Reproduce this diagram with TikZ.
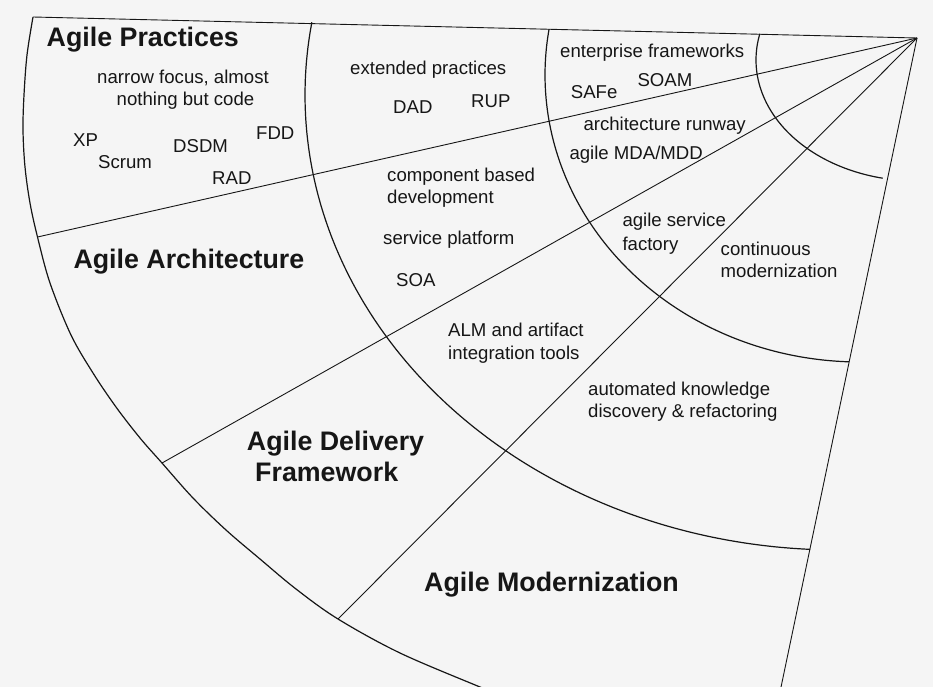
\documentclass[tikz,border=0pt]{standalone}
\usepackage{fontspec}
\setmainfont{Liberation Sans}
\definecolor{bg}{RGB}{245,245,245}
\definecolor{ink}{RGB}{22,22,22}
\tikzset{
  radline/.style={draw=ink, line width=0.9pt},
  arcline/.style={draw=ink, line width=1.2pt, line join=round},
  lbl/.style={inner sep=0pt, text=ink, font=\fontsize{18.6}{22.5}\selectfont},
  ttl/.style={inner sep=0pt, text=ink, font=\bfseries\fontsize{26.8}{31}\selectfont},
}
\begin{document}
\begin{tikzpicture}[x=1pt,y=-1pt]
\fill[bg] (0,0) rectangle (933,687);
\useasboundingbox (0,0) rectangle (933,687);
\begin{scope}
\clip (0,0) rectangle (933,687);
% apex and ends of the radial lines
\coordinate (apex) at (917,38);
\coordinate (e0) at (33,17);
\coordinate (e1) at (37.5,237);
\coordinate (e2) at (162,463);
\coordinate (e3) at (338,619);
\coordinate (e4) at (778.3,700);
% radial lines
\draw[radline] (apex) -- (e0);
\draw[radline] (apex) -- (e1);
\draw[radline] (apex) -- (e2);
\draw[radline] (apex) -- (e3);
\draw[radline] (apex) -- (e4);
% outer arc
\draw[arcline] plot[smooth, tension=0.55] coordinates {
  (33,17) (27,55) (24,95) (23,130) (25,167) (30,203) (37.5,237) (50,283)
  (71,335) (93,373) (116,407) (140,438) (162,463) (193,498) (226,530)
  (260,559) (296,589) (338,619) (400,653) (480,687) (500,695)};
% second arc
\draw[arcline] plot[domain=189.2:93, samples=150, variable=\t]
  ({838+533*cos(\t)},{95+455*sin(\t)});
% third arc
\draw[arcline] plot[domain=189.2:92, samples=120, variable=\t]
  ({860+315*cos(\t)},{75+287*sin(\t)});
% innermost arc
\draw[arcline] plot[domain=192.5:102.3, samples=80, variable=\t]
  ({917+161*cos(\t)},{60+121*sin(\t)});
\end{scope}
% sector titles
\node[ttl, anchor=base west] (tp) at (46.5,46.5) {Agile Practices};
\node[ttl, anchor=base west] (ta) at (73.3,268.3) {Agile Architecture};
\node[ttl, anchor=base west] (td1) at (246.7,450) {Agile Delivery};
\node[ttl, anchor=base west] (td2) at (255,481) {Framework};
\node[ttl, anchor=base west] (tm) at (424,591.7) {Agile Modernization};
% practices sector
\node[lbl, anchor=base] (np1) at (183,83.5) {narrow focus, almost};
\node[lbl, anchor=base] (np2) at (185.5,106) {nothing but code};
\node[lbl, anchor=base west] (xp) at (73,146.7) {XP};
\node[lbl, anchor=base west] (scrum) at (98,168.3) {Scrum};
\node[lbl, anchor=base west] (dsdm) at (173,152.3) {DSDM};
\node[lbl, anchor=base west] (fdd) at (256,140) {FDD};
\node[lbl, anchor=base west] (rad) at (212,184) {RAD};
% second ring
\node[lbl, anchor=base west] (ext) at (350,75) {extended practices};
\node[lbl, anchor=base west] (dad) at (393,113.3) {DAD};
\node[lbl, anchor=base west] (rup) at (471,107.3) {RUP};
\node[lbl, anchor=base west] (cbd1) at (387,181) {component based};
\node[lbl, anchor=base west] (cbd2) at (387,203.3) {development};
\node[lbl, anchor=base west] (sp) at (383,244.3) {service platform};
\node[lbl, anchor=base west] (soa) at (396,286.7) {SOA};
\node[lbl, anchor=base west] (alm1) at (448,336.7) {ALM and artifact};
\node[lbl, anchor=base west] (alm2) at (448,359) {integration tools};
\node[lbl, anchor=base west] (akd1) at (588,395) {automated knowledge};
\node[lbl, anchor=base west] (akd2) at (588,417.3) {discovery \& refactoring};
% third ring
\node[lbl, anchor=base west] (ent) at (560,57.3) {enterprise frameworks};
\node[lbl, anchor=base west] (safe) at (570.7,98.3) {SAFe};
\node[lbl, anchor=base west] (soam) at (637.3,86.7) {SOAM};
\node[lbl, anchor=base west] (runway) at (583.3,131) {architecture runway};
\node[lbl, anchor=base west] (mda) at (569.3,160) {agile MDA/MDD};
\node[lbl, anchor=base west] (asf1) at (622.3,226.7) {agile service};
\node[lbl, anchor=base west] (asf2) at (622.3,250) {factory};
\node[lbl, anchor=base west] (cm1) at (720.5,255) {continuous};
\node[lbl, anchor=base west] (cm2) at (720.5,277.3) {modernization};
\end{tikzpicture}
\end{document}
